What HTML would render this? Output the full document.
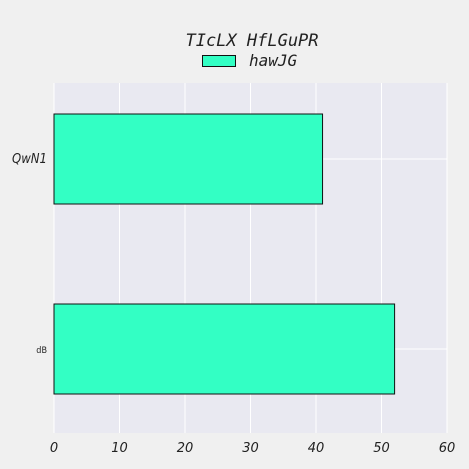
<!DOCTYPE html>
<html><head><meta charset="utf-8"><style>
body{margin:0;background:#f0f0f0;}
svg{display:block;}
</style></head><body>
<svg id="chart" width="469" height="469" xmlns="http://www.w3.org/2000/svg">
<rect width="469" height="469" fill="#f0f0f0"/>
<text x="252" y="46" text-anchor="middle" font-family="DejaVu Sans Mono, monospace" font-style="italic" font-size="17" fill="#222">TIcLX HfLGuPR</text>
<g>
<rect x="202.5" y="55.5" width="33" height="11" fill="#33ffc4" stroke="#111" stroke-width="1"/>
<text x="249" y="66" font-family="DejaVu Sans Mono, monospace" font-style="italic" font-size="16" fill="#222">hawJG</text>
</g>
<rect x="54" y="83" width="393" height="350" fill="#e9e9f1"/>
<g id="grid"></g>
<g id="bars"></g>
<g id="ticks"></g>
</svg>
<script>
const categories = ["QwN1", "dB"];
const values = [41, 52];
const xTicks = [0, 10, 20, 30, 40, 50, 60];
const ns = "http://www.w3.org/2000/svg";
const L = 54, R = 447, T = 83, B = 433;
const xMax = 60;
function xs(v){ return L + v / xMax * (R - L); }
function yc(i){ return 159 + i * 190; }
const bandH = 90;
function mk(tag, attrs, parent){ const e = document.createElementNS(ns, tag); for (const k in attrs) e.setAttribute(k, attrs[k]); parent.appendChild(e); return e; }
const grid = document.getElementById('grid'), bars = document.getElementById('bars'), ticks = document.getElementById('ticks');
xTicks.forEach(t => {
  const l = mk('line', {x1: xs(t), x2: xs(t), y1: T, y2: B, stroke: '#fff', 'stroke-width': 1}, grid);
  
  
  const tx = mk('text', {x: xs(t), y: 452, 'text-anchor': 'middle', 'font-family': 'DejaVu Sans, sans-serif', 'font-style': 'italic', 'font-size': 13, fill: '#222'}, ticks);
  tx.textContent = t;
  
  
});
categories.forEach((c, i) => {
  const l = mk('line', {x1: L, x2: R, y1: yc(i), y2: yc(i), stroke: '#fff', 'stroke-width': 1}, grid);
  
  
  const r = mk('rect', {x: xs(0), y: yc(i) - bandH / 2, width: xs(values[i]) - xs(0), height: bandH, fill: '#33ffc4', stroke: '#111', 'stroke-width': 1}, bars);
  
  
  const tx = mk('text', {x: 47, y: yc(i) + 4, 'text-anchor': 'end', 'font-family': 'DejaVu Sans Condensed, DejaVu Sans, sans-serif', 'font-style': c.length > 2 ? 'italic' : 'normal', 'font-size': c.length > 2 ? 13 : 9, fill: '#222'}, ticks);
  tx.textContent = c;
  
  
});
</script>
</body></html>
